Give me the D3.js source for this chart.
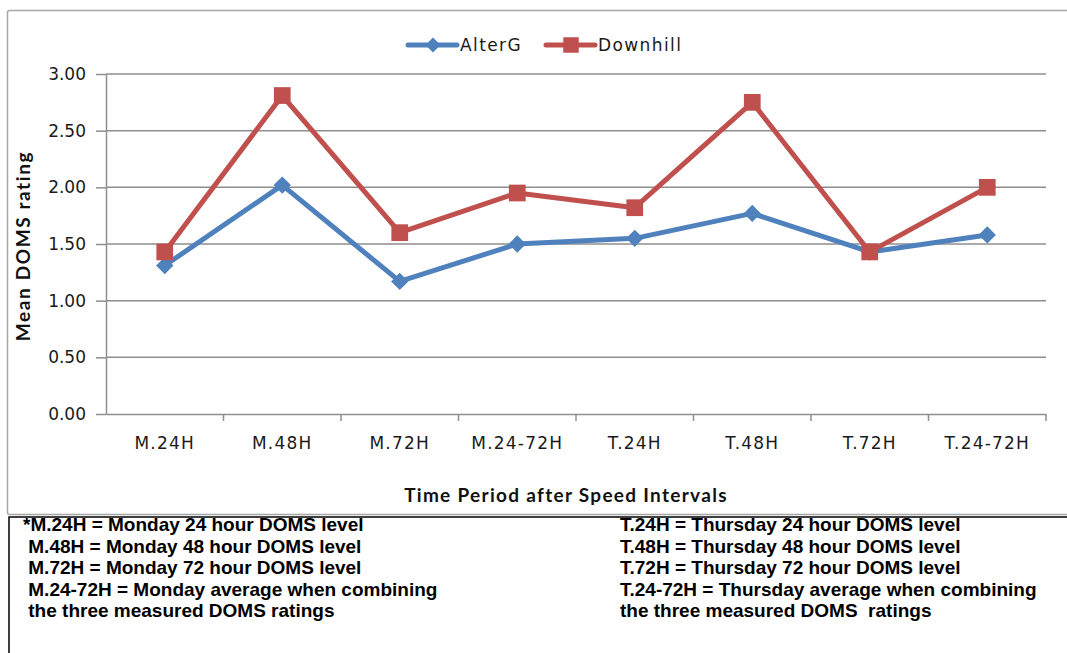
<!DOCTYPE html>
<html>
<head>
<meta charset="utf-8">
<script src="https://cdn.jsdelivr.net/npm/d3@7"></script>
<style>
  body { margin: 0; background: #fff; }
  svg { display: block; }
</style>
</head>
<body>
<div class="chart"></div>
<script>
var categories = ['M.24H', 'M.48H', 'M.72H', 'M.24-72H', 'T.24H', 'T.48H', 'T.72H', 'T.24-72H']
var alterG = [1.31, 2.02, 1.17, 1.50, 1.55, 1.77, 1.43, 1.58]
var downhill = [1.43, 2.81, 1.60, 1.95, 1.82, 2.75, 1.43, 2.00]
var yTicks = [0, 0.5, 1, 1.5, 2, 2.5, 3]
var notesLeft = [
  '*M.24H = Monday 24 hour DOMS level',
  ' M.48H = Monday 48 hour DOMS level',
  ' M.72H = Monday 72 hour DOMS level',
  ' M.24-72H = Monday average when combining',
  ' the three measured DOMS ratings'
]
var notesRight = [
  'T.24H = Thursday 24 hour DOMS level',
  'T.48H = Thursday 48 hour DOMS level',
  'T.72H = Thursday 72 hour DOMS level',
  'T.24-72H = Thursday average when combining',
  'the three measured DOMS  ratings'
]

var W = 1067, H = 653
var plot = { left: 106, right: 1046, top: 74, bottom: 414 }

var svg = d3.select('.chart')
  .append('svg')
    .attr('width', W)
    .attr('height', H)

// outer chart frame (runs off the right edge)
svg.append('rect')
  .attr('x', 7.5).attr('y', 10.5)
  .attr('width', 1080).attr('height', 504)
  .attr('rx', 2)
  .attr('fill', 'none')
  .attr('stroke', '#a6a6a6')
  .attr('stroke-width', 1.5)

// footnote box
svg.append('path')
  .attr('d', 'M9,653 V517 H1067')
  .attr('fill', 'none')
  .attr('stroke', '#000')
  .attr('stroke-width', 1.5)

var x = d3.scaleBand()
  .domain(categories)
  .range([plot.left, plot.right])

var y = d3.scaleLinear()
  .domain([0, 3])
  .range([plot.bottom, plot.top])

var cx = function (d, i) { return x(categories[i]) + x.bandwidth() / 2 }

// gridlines
svg.append('g')
  .selectAll('line')
  .data(yTicks.slice(1))
  .join('line')
    .attr('x1', plot.left).attr('x2', plot.right)
    .attr('y1', d => y(d)).attr('y2', d => y(d))
    .attr('stroke', '#8e8e8e')
    .attr('stroke-width', 1.5)

// y axis
var yAxis = d3.axisLeft(y)
  .tickValues(yTicks)
  .tickFormat(d3.format('.2f'))
  .tickSizeInner(10)
  .tickSizeOuter(0)
  .tickPadding(10)

var gy = svg.append('g')
  .attr('transform', `translate(${plot.left}, 0)`)
  .call(yAxis)
gy.selectAll('path, line').attr('stroke', '#8e8e8e').attr('stroke-width', 1.5)
gy.selectAll('text')
  .attr('font-family', 'DejaVu Sans')
  .attr('font-size', 17)
  .attr('fill', '#1a1a1a')

// x axis
var xAxis = d3.axisBottom(x)
  .tickSize(0)
  .tickPadding(23)

var gx = svg.append('g')
  .attr('transform', `translate(0, ${plot.bottom})`)
  .call(xAxis)
gx.select('path').attr('stroke', '#8e8e8e').attr('stroke-width', 1.5)
gx.selectAll('text')
  .attr('font-family', 'DejaVu Sans')
  .attr('font-size', 17)
  .attr('letter-spacing', 1.2)
  .attr('fill', '#1a1a1a')

// category separators on x axis
svg.append('g')
  .selectAll('line')
  .data(categories)
  .join('line')
    .attr('x1', d => x(d) + x.bandwidth())
    .attr('x2', d => x(d) + x.bandwidth())
    .attr('y1', plot.bottom).attr('y2', plot.bottom + 7)
    .attr('stroke', '#8e8e8e')
    .attr('stroke-width', 1.5)

// axis titles
svg.append('text')
  .attr('x', 566)
  .attr('y', 502)
  .attr('text-anchor', 'middle')
  .attr('font-family', 'Lato')
  .attr('font-weight', 'bold')
  .attr('font-size', 19)
  .attr('letter-spacing', 1.3)
  .attr('fill', '#111')
  .text('Time Period after Speed Intervals')

svg.append('text')
  .attr('transform', `translate(30, ${(plot.top + plot.bottom) / 2 + 2}) rotate(-90)`)
  .attr('text-anchor', 'middle')
  .attr('font-family', 'Lato')
  .attr('font-weight', 'bold')
  .attr('font-size', 19)
  .attr('letter-spacing', 1.6)
  .attr('fill', '#111')
  .text('Mean DOMS rating')

// series
var series = [
  { name: 'AlterG', values: alterG, color: '#4f81bd', size: 150, rot: 45 },
  { name: 'Downhill', values: downhill, color: '#c0504d', size: 280, rot: 0 }
]

var line = d3.line()
  .x(cx)
  .y(d => y(d))

series.forEach(function (s) {
  svg.append('path')
    .datum(s.values)
    .attr('d', line)
    .attr('fill', 'none')
    .attr('stroke', s.color)
    .attr('stroke-width', 5)
    .attr('stroke-linejoin', 'round')
})

series.forEach(function (s) {
  svg.append('g')
    .selectAll('path')
    .data(s.values)
    .join('path')
      .attr('d', d3.symbol(d3.symbolSquare, s.size))
      .attr('transform', (d, i) => `translate(${cx(d, i)}, ${y(d)}) rotate(${s.rot})`)
      .attr('fill', s.color)
})

// legend
var legendX = [408, 546]
var legend = svg.append('g')
  .selectAll('g')
  .data(series)
  .join('g')
    .attr('transform', (d, i) => `translate(${legendX[i]}, 45)`)

legend.append('line')
  .attr('x1', 0).attr('x2', 49)
  .attr('stroke', d => d.color)
  .attr('stroke-width', 5)
  .attr('stroke-linecap', 'round')

legend.append('path')
  .attr('d', d => d3.symbol(d3.symbolSquare, d.rot ? 110 : 240)())
  .attr('transform', d => `translate(25, 0) rotate(${d.rot})`)
  .attr('fill', d => d.color)

legend.append('text')
  .attr('x', 52)
  .attr('dy', '0.35em')
  .attr('font-family', 'DejaVu Sans')
  .attr('font-size', 17)
  .attr('letter-spacing', 1.4)
  .attr('fill', '#1a1a1a')
  .text(d => d.name)

// footnote
function notes(lines, x0) {
  svg.append('g')
    .selectAll('text')
    .data(lines)
    .join('text')
      .attr('x', x0)
      .attr('y', (d, i) => 531 + i * 21.6)
      .attr('font-family', 'Liberation Sans')
      .attr('font-weight', 'bold')
      .attr('font-size', 19)
      .attr('letter-spacing', 0)
      .attr('xml:space', 'preserve')
      .style('white-space', 'pre')
      .attr('fill', '#000')
      .text(d => d)
}
notes(notesLeft, 23)
notes(notesRight, 620)
</script>
</body>
</html>
